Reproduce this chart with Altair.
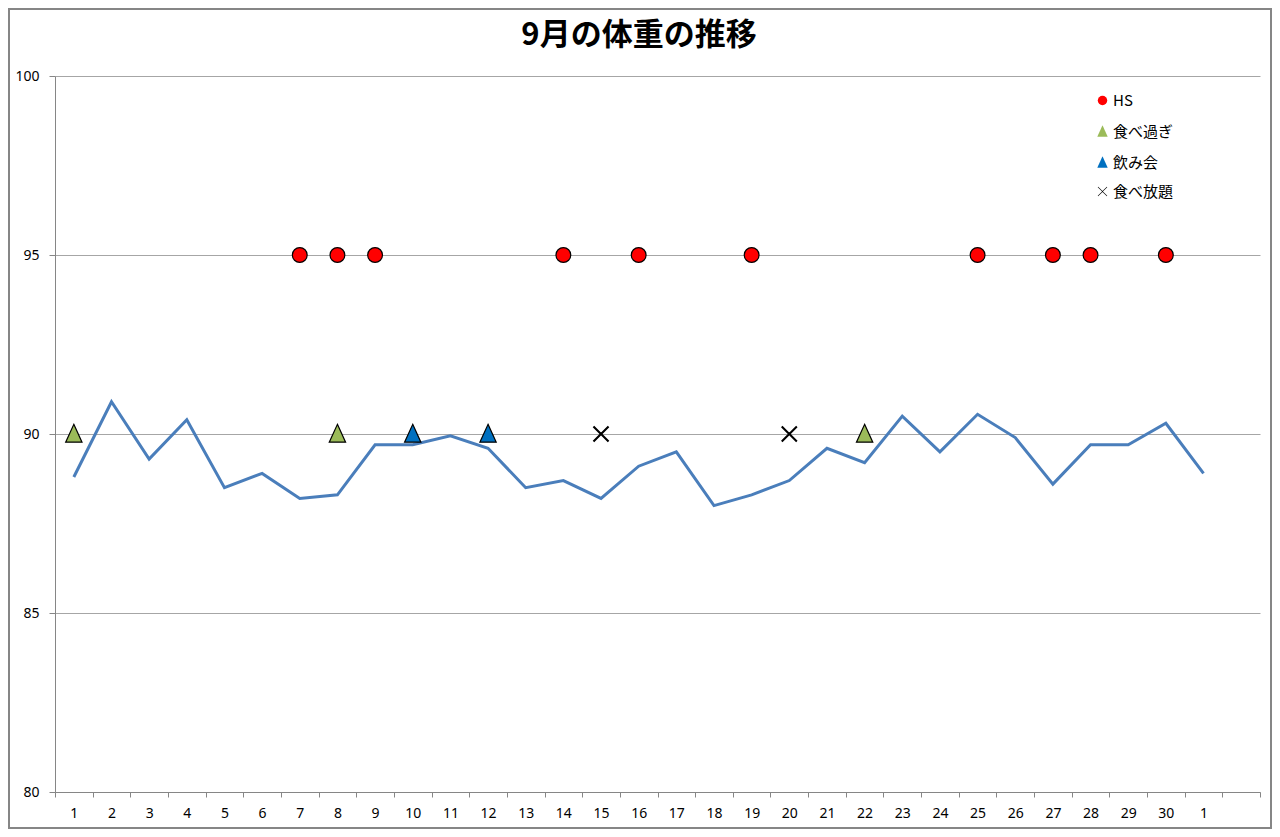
import altair as alt
import pandas as pd

title_text = "9月の体重の推移"
x_labels = [str(d) for d in range(1, 31)] + ["1", ""]
weights = [88.8, 90.9, 89.3, 90.4, 88.5, 88.9, 88.2, 88.3, 89.7, 89.7,
           89.95, 89.6, 88.5, 88.7, 88.2, 89.1, 89.5, 88.0, 88.3, 88.7,
           89.6, 89.2, 90.5, 89.5, 90.55, 89.9, 88.6, 89.7, 89.7, 90.3, 88.9]
hs_days = [7, 8, 9, 14, 16, 19, 25, 27, 28, 30]
hs_level = 95
overeat_days = [1, 8, 22]
party_days = [10, 12]
buffet_days = [15, 20]
event_level = 90
event_names = ["HS", "食べ過ぎ", "飲み会", "食べ放題"]
event_colors = ["#ff0000", "#9bbb59", "#0070c0", "#000000"]

TRI = "M0,-1.3L1.1,1.1L-1.1,1.1Z"
XSHAPE = ("M-1,-0.92L-0.92,-1L0,-0.08L0.92,-1L1,-0.92L0.08,0L1,0.92L0.92,1"
          "L0,0.08L-0.92,1L-1,0.92L-0.08,0Z")
event_shapes = ["circle", TRI, TRI, XSHAPE]
event_strokes = [1.2, 1.2, 1.2, 0.4]

line_df = pd.DataFrame({"idx": list(range(len(weights))), "value": weights})

rows = []
for d in hs_days:
    rows.append({"idx": d - 1, "value": hs_level, "type": "HS"})
for d in overeat_days:
    rows.append({"idx": d - 1, "value": event_level, "type": "食べ過ぎ"})
for d in party_days:
    rows.append({"idx": d - 1, "value": event_level, "type": "飲み会"})
for d in buffet_days:
    rows.append({"idx": d - 1, "value": event_level, "type": "食べ放題"})
ev_df = pd.DataFrame(rows)

W, H = 1205, 716
PL, PT, PR, PB = 47, 68, 12, 37

label_expr = "[" + ",".join("'%s'" % l for l in x_labels) + "][datum.value]"

xenc = alt.X(
    "idx:O",
    scale=alt.Scale(type="band", domain=list(range(len(x_labels))),
                    paddingInner=0, paddingOuter=0),
    axis=alt.Axis(title=None, labelExpr=label_expr, labelAngle=0,
                  tickBand="extent", tickSize=5, tickColor="#868686",
                  domainColor="#868686", labelFont="Noto Sans",
                  labelFontSize=14, labelColor="#000000", labelPadding=9,
                  grid=False),
)
yenc = alt.Y(
    "value:Q",
    scale=alt.Scale(domain=[80, 100], nice=False, zero=False),
    axis=alt.Axis(title=None, values=[80, 85, 90, 95, 100], tickSize=6,
                  tickColor="#868686", domainColor="#868686",
                  gridColor="#a6a6a6", gridWidth=1, labelFont="Noto Sans",
                  labelFontSize=14, labelColor="#000000", labelPadding=10),
)

line = alt.Chart(line_df).mark_line(color="#4a7ebb", strokeWidth=3).encode(
    x=xenc, y=yenc
)

leg = alt.Legend(
    title=None, orient="none", legendX=1040, legendY=17,
    labelFont="Noto Sans CJK JP", labelFontSize=15, labelColor="#000000",
    symbolSize=90, symbolStrokeColor="#000000", symbolStrokeWidth=0.5,
    rowPadding=13, labelOffset=3, symbolOpacity=1)

points = alt.Chart(ev_df).mark_point(
    filled=True, stroke="black", opacity=1, size=220
).encode(
    x=xenc,
    y=yenc,
    color=alt.Color("type:N",
                    scale=alt.Scale(domain=event_names, range=event_colors),
                    legend=leg),
    shape=alt.Shape("type:N",
                    scale=alt.Scale(domain=event_names, range=event_shapes),
                    legend=leg),
    strokeWidth=alt.StrokeWidth("type:N",
                                scale=alt.Scale(domain=event_names,
                                                range=event_strokes),
                                legend=None),
)

border = alt.Chart(line_df.head(1)).mark_rect(
    fill="transparent", stroke="#868686", strokeWidth=2
).encode(
    x=alt.value(-PL + 1), x2=alt.value(W + PR - 1),
    y=alt.value(-PT + 1), y2=alt.value(H + PB - 1),
)

title = alt.Chart(line_df.head(1)).mark_text(
    font="Noto Sans CJK JP", fontSize=31, fontWeight="bold", color="#000000",
    align="center", baseline="middle"
).encode(
    x=alt.value(584), y=alt.value(-40), text=alt.value(title_text)
)

chart = alt.layer(border, title, line, points).properties(
    width=W, height=H,
    padding={"left": PL, "top": PT, "right": PR, "bottom": PB},
    autosize=alt.AutoSizeParams(type="none"),
    background="white",
).configure_view(stroke=None)

chart.save("out.html", embed_options={"renderer": "svg", "actions": False})
